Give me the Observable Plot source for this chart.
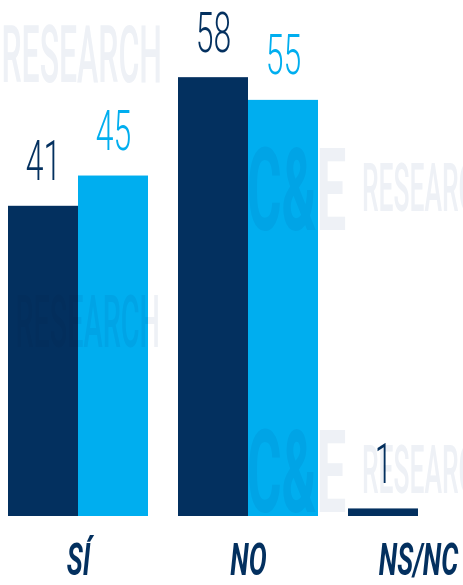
<!DOCTYPE html>
<html><head><meta charset="utf-8">
<script src="https://cdn.jsdelivr.net/npm/d3@7"></script>
<script src="https://cdn.jsdelivr.net/npm/@observablehq/plot@0.6"></script>
<style>
html,body{margin:0;padding:0;background:#fff;overflow:hidden;width:463px;height:585px;}
#wrap{position:relative;width:463px;height:585px;overflow:hidden;}
#chart{position:absolute;left:0;top:0;width:488px;}
#chart svg{max-width:none !important;}
#wm{position:absolute;left:0;top:0;mix-blend-mode:multiply;pointer-events:none;}
</style>
</head><body>
<div id="wrap"><div id="chart"></div></div>
<script>
// ---- data ----
const categories = ["SÍ", "NO", "NS/NC"];
const series = ["Serie 1", "Serie 2"];
const valuesSerie1 = [41, 58, 1];
const valuesSerie2 = [45, 55, null];
const seriesColors = ["#03305f", "#00aeef"];

const rows = [];
categories.forEach((c, i) => {
  if (valuesSerie1[i] != null) rows.push({category: c, series: series[0], value: valuesSerie1[i]});
  if (valuesSerie2[i] != null) rows.push({category: c, series: series[1], value: valuesSerie2[i]});
});

const plot = Plot.plot({
  width: 488,
  height: 585,
  marginTop: 0,
  marginLeft: 8,
  marginRight: 0,
  marginBottom: 69,
  style: {fontFamily: "Roboto, 'DejaVu Sans', sans-serif", background: "transparent", maxWidth: "none"},
  fx: {domain: categories, paddingInner: 30 / 170, paddingOuter: 0, axis: null, label: null},
  x: {domain: series, padding: 0, axis: null},
  y: {domain: [0, 68.2], axis: null},
  color: {domain: series, range: seriesColors},
  marks: [
    Plot.barY(rows, {fx: "category", x: "series", y: "value", fill: "series"}),
    Plot.text(rows, {
      fx: "category", x: "series", y: "value",
      text: d => String(d.value), fill: "series",
      dy: -26, lineAnchor: "bottom", fontSize: 55, fontWeight: 300
    }),
    Plot.text(categories, {
      fx: d => d, text: d => d, frameAnchor: "bottom", dy: 58, lineAnchor: "bottom",
      fontSize: 44, fontWeight: 700, fontStyle: "italic", fill: seriesColors[0]
    })
  ]
});
document.getElementById("chart").appendChild(plot);

// condensed look: squeeze text horizontally
d3.select(plot).selectAll("text").each(function () {
  const fs = parseFloat(this.parentNode.getAttribute("font-size"));
  const s = fs > 50 ? 0.58 : 0.61;
  const t = this.getAttribute("transform") || "";
  this.setAttribute("transform", t + ` scale(${s},1)`);
});

// faint background watermark (decoration)
const wm = d3.select("#wrap").append("svg").attr("id", "wm")
  .attr("width", 463).attr("height", 585)
  .style("font-family", "Roboto, 'DejaVu Sans', sans-serif")
  .attr("fill", "#eef1f6");
const wmWords = [
  {t: "RESEARCH", x: 162, y: 82, fs: 80, w: 500, s: 0.4, a: "end"},
  {t: "RESEARCH", x: 160, y: 347, fs: 72, w: 500, s: 0.4, a: "end"},
  {t: "C&E", x: 247, y: 230, fs: 115, w: 700, s: 0.46, a: "start"},
  {t: "RESEARCH", x: 362, y: 211, fs: 66, w: 500, s: 0.4, a: "start"},
  {t: "C&E", x: 247, y: 512, fs: 115, w: 700, s: 0.46, a: "start"},
  {t: "RESEARCH", x: 362, y: 493, fs: 66, w: 500, s: 0.4, a: "start"}
];
wm.selectAll("text").data(wmWords).join("text")
  .attr("transform", d => `translate(${d.x},${d.y}) scale(${d.s},1)`)
  .attr("text-anchor", d => d.a)
  .attr("font-size", d => d.fs)
  .attr("font-weight", d => d.w)
  .text(d => d.t);
</script>
</body></html>
